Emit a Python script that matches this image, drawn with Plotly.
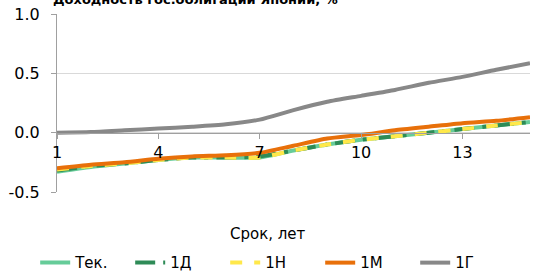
import plotly.graph_objects as go

terms = list(range(1, 16))
tek = [-0.33, -0.29, -0.26, -0.23, -0.21, -0.21, -0.21, -0.15, -0.10, -0.06, -0.03, 0.00, 0.03, 0.06, 0.09]
d1 = [-0.32, -0.28, -0.26, -0.23, -0.21, -0.21, -0.20, -0.15, -0.10, -0.06, -0.03, 0.00, 0.03, 0.06, 0.09]
n1 = [-0.31, -0.28, -0.26, -0.23, -0.21, -0.21, -0.21, -0.15, -0.10, -0.06, -0.03, 0.00, 0.03, 0.06, 0.09]
m1 = [-0.30, -0.27, -0.25, -0.22, -0.20, -0.19, -0.17, -0.11, -0.05, -0.02, 0.02, 0.05, 0.08, 0.10, 0.13]
g1 = [0.00, 0.005, 0.02, 0.035, 0.05, 0.07, 0.11, 0.19, 0.26, 0.31, 0.36, 0.42, 0.47, 0.53, 0.585]

names = ["Тек.", "1Д", "1Н", "1М", "1Г"]
series = [tek, d1, n1, m1, g1]
colors = ["#66cc99", "#2e8b57", "#ffe84a", "#e8700a", "#888888"]
dashes = ["solid", "longdashdot", "dash", "solid", "solid"]
xticks = [1, 4, 7, 10, 13]

fig = go.Figure()
for nm, ys, c, ds in zip(names, series, colors, dashes):
    fig.add_trace(go.Scatter(x=terms, y=ys, name=nm, mode="lines",
                             line=dict(color=c, width=4, dash=ds, shape="spline", smoothing=0.6)))

font = "DejaVu Sans, Verdana, sans-serif"
fig.update_layout(
    width=552, height=271,
    margin=dict(l=57, r=22, t=14, b=79, autoexpand=False),
    paper_bgcolor="white", plot_bgcolor="white",
    font=dict(family=font, size=15, color="#000000"),
    showlegend=True,
    legend=dict(orientation="h", x=0.494, xanchor="center", xref="container",
                y=0.03, yanchor="middle", yref="container",
                font=dict(size=15), bgcolor="rgba(0,0,0,0)",
                entrywidth=50, entrywidthmode="pixels"),
    xaxis=dict(range=[1, 15], tickvals=xticks, anchor="free", position=1/3,
               showline=True, linecolor="#a0a0a0", linewidth=1,
               ticks="outside", ticklen=5, tickcolor="#a0a0a0",
               showgrid=False, zeroline=False, tickfont=dict(size=16),
               automargin=False),
    yaxis=dict(range=[-0.5, 1.0], dtick=0.5, tickformat=".1f",
               labelalias={"−0.5": "-0.5"},
               showline=True, linecolor="#a0a0a0", linewidth=1,
               ticks="outside", ticklen=5, tickcolor="#a0a0a0",
               ticklabelstandoff=8,
               showgrid=True, gridcolor="#d9d9d9", gridwidth=1,
               zeroline=False, tickfont=dict(size=16), automargin=False),
    annotations=[
        dict(text="Срок, лет", xref="paper", yref="paper", x=0.446, y=-0.175,
             xanchor="center", yanchor="top", showarrow=False, font=dict(size=15)),
        dict(text="<b>Доходность гос.облигаций Японии, %</b>", xref="paper", yref="paper",
             x=-0.012, y=1, xanchor="left", yanchor="bottom", yshift=5, showarrow=False,
             font=dict(size=13)),
    ],
)

fig.write_html("out.html", config={"displayModeBar": False},
               post_script="document.body.style.margin='0';")
